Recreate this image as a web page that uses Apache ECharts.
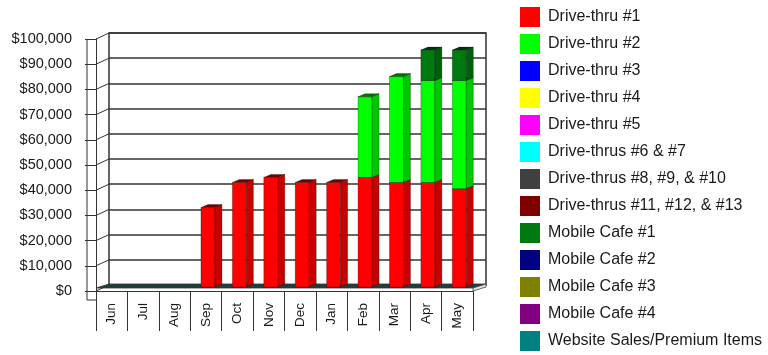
<!DOCTYPE html>
<html>
<head>
<meta charset="utf-8">
<script src="https://cdn.jsdelivr.net/npm/echarts@6/dist/echarts.min.js"></script>
<style>
  html, body { margin: 0; padding: 0; background: #fff; }
  #chart { width: 768px; height: 355px; }
</style>
</head>
<body>
<div id="chart"></div>
<script>
const months = ['Jun', 'Jul', 'Aug', 'Sep', 'Oct', 'Nov', 'Dec', 'Jan', 'Feb', 'Mar', 'Apr', 'May'];
const names = [
  'Drive-thru #1', 'Drive-thru #2', 'Drive-thru #3', 'Drive-thru #4', 'Drive-thru #5',
  'Drive-thrus #6 & #7', 'Drive-thrus #8, #9, & #10', 'Drive-thrus #11, #12, & #13',
  'Mobile Cafe #1', 'Mobile Cafe #2', 'Mobile Cafe #3', 'Mobile Cafe #4',
  'Website Sales/Premium Items'
];
const colors = [
  '#ff0000', '#00ff00', '#0000ff', '#ffff00', '#ff00ff', '#00ffff', '#404040',
  '#800000', '#007a10', '#000080', '#808000', '#800080', '#008080'
];
// sales per month
const driveThru1 = [0, 0, 0, 31500, 41500, 43500, 41500, 41500, 43500, 41500, 41500, 39000];
const driveThru2 = [0, 0, 0, 0, 0, 0, 0, 0, 32000, 42000, 40500, 43000];
const mobileCafe1 = [0, 0, 0, 0, 0, 0, 0, 0, 0, 0, 12000, 12000];
const none = [0, 0, 0, 0, 0, 0, 0, 0, 0, 0, 0, 0];
const values = [driveThru1, driveThru2, none, none, none, none, none, none,
  mobileCafe1, none, none, none, none];
const yTicks = [0, 10000, 20000, 30000, 40000, 50000, 60000, 70000, 80000, 90000, 100000];

// depth of the fake 3d box
const WALL_DX = 13, WALL_DY = -6;
const BAR_DX = 2, BAR_DY = -4, BAR_HALF = 7, SIDE_DX = 7, SIDE_DY = -3;

function shade(hex, f) {
  const n = parseInt(hex.slice(1), 16);
  const r = Math.round(((n >> 16) & 255) * f);
  const g = Math.round(((n >> 8) & 255) * f);
  const b = Math.round((n & 255) * f);
  return 'rgb(' + r + ',' + g + ',' + b + ')';
}

var chart = echarts.init(document.getElementById('chart'));

let base = months.map(() => 0);
const barSeries = names.map((name, s) => {
  const data = values[s].map((v, i) => {
    const item = [i, base[i], base[i] + v];
    base[i] += v;
    return item;
  });
  const col = colors[s];
  return {
    name: name,
    type: 'custom',
    xAxisIndex: 1,
    yAxisIndex: 1,
    z: 3,
    itemStyle: { color: col },
    data: data,
    renderItem: function (params, api) {
      const lo = api.value(1), hi = api.value(2);
      if (hi <= lo) return null;
      const p0 = api.coord([api.value(0), lo]);
      const p1 = api.coord([api.value(0), hi]);
      const xl = p0[0] + BAR_DX - BAR_HALF;
      const xr = p0[0] + BAR_DX + BAR_HALF;
      const yb = p0[1] + BAR_DY;
      const yt = p1[1] + BAR_DY;
      const edge = { stroke: 'rgba(0,0,0,0.45)', lineWidth: 0.6 };
      return {
        type: 'group',
        children: [
          {
            type: 'rect',
            shape: { x: xl, y: yt, width: xr - xl, height: yb - yt },
            style: Object.assign({ fill: col }, edge)
          },
          {
            type: 'polygon',
            shape: { points: [[xr, yb], [xr + SIDE_DX, yb + SIDE_DY], [xr + SIDE_DX, yt + SIDE_DY], [xr, yt]] },
            style: Object.assign({ fill: shade(col, 0.78) }, edge)
          },
          {
            type: 'polygon',
            shape: { points: [[xl, yt], [xr, yt], [xr + SIDE_DX, yt + SIDE_DY], [xl + SIDE_DX, yt + SIDE_DY]] },
            style: Object.assign({ fill: shade(col, 0.45) }, edge)
          }
        ]
      };
    }
  };
});

// floor slab and left frame
const floorSeries = {
  type: 'custom',
  xAxisIndex: 1,
  yAxisIndex: 1,
  z: 2,
  silent: true,
  data: [[0]],
  renderItem: function (params, api) {
    const band = api.size([1, 0])[0];
    const a = api.coord([0, 0]);
    const b = api.coord([months.length - 1, 0]);
    const top = api.coord([0, yTicks[yTicks.length - 1]]);
    const x0 = a[0] - band / 2, x1 = b[0] + band / 2, y0 = a[1];
    const yf = y0 - 3;
    return {
      type: 'group',
      children: [
        {
          type: 'polygon',
          shape: { points: [[x0, yf], [x1, yf], [x1 + WALL_DX, yf - 4], [x0 + WALL_DX, yf - 4]] },
          style: { fill: '#1f3f3d', stroke: '#333', lineWidth: 0.8 }
        },
        {
          type: 'polygon',
          shape: { points: [[x1, yf], [x1 + WALL_DX, yf - 4], [x1 + WALL_DX, y0 - 4], [x1, y0]] },
          style: { fill: '#e4e4e4', stroke: '#444', lineWidth: 0.8 }
        },
        {
          type: 'polyline',
          shape: { points: [[x0 - 9, top[1]], [x0 - 9, y0 + 9], [x0, y0 + 9]] },
          style: { fill: null, stroke: '#333', lineWidth: 1 }
        }
      ]
    };
  }
};

// left wall diagonals from front ticks to the back wall
const wallSeries = {
  type: 'custom',
  xAxisIndex: 1,
  yAxisIndex: 1,
  z: 2,
  silent: true,
  data: yTicks.map((v) => [0, v]),
  renderItem: function (params, api) {
    const band = api.size([1, 0])[0];
    const p = api.coord([0, api.value(1)]);
    const x0 = p[0] - band / 2;
    return {
      type: 'line',
      shape: { x1: x0, y1: p[1], x2: x0 + WALL_DX, y2: p[1] + WALL_DY },
      style: { stroke: '#333', lineWidth: 1 }
    };
  }
};

option = {
  animation: false,
  color: colors,
  legend: {
    data: names,
    orient: 'vertical',
    left: 520,
    top: 7,
    padding: 0,
    itemWidth: 20,
    itemHeight: 20,
    itemGap: 7,
    icon: 'rect',
    textStyle: { fontFamily: 'Liberation Sans', fontSize: 16, color: '#1a1a1a', padding: [0, 0, 0, 3] }
  },
  grid: [
    // back wall
    { left: 96 + WALL_DX, right: 295 - WALL_DX, top: 39 + WALL_DY, bottom: 64 - WALL_DY,
      show: true, borderColor: '#333', borderWidth: 1.5, backgroundColor: '#fff' },
    // front plane
    { left: 96, right: 295, top: 39, bottom: 64 }
  ],
  xAxis: [
    { gridIndex: 0, type: 'category', data: months, show: false },
    {
      gridIndex: 1,
      type: 'category',
      data: months,
      axisLine: { lineStyle: { color: '#333', width: 1 } },
      axisTick: { show: true, interval: 0, length: 40, lineStyle: { color: '#333' } },
      axisLabel: { rotate: 90, margin: 12, fontFamily: 'Liberation Sans', fontSize: 13.5, color: '#1a1a1a' }
    }
  ],
  yAxis: [
    {
      gridIndex: 0,
      type: 'value',
      min: 0,
      max: 100000,
      interval: 10000,
      axisLine: { show: false },
      axisTick: { show: false },
      axisLabel: { show: false },
      splitLine: { lineStyle: { color: '#333', width: 1.6 } }
    },
    {
      gridIndex: 1,
      type: 'value',
      min: 0,
      max: 100000,
      interval: 10000,
      axisLine: { show: true, lineStyle: { color: '#333' } },
      axisTick: { show: true, length: 11, lineStyle: { color: '#333' } },
      splitLine: { show: false },
      axisLabel: {
        margin: 24,
        fontFamily: 'Liberation Sans',
        fontSize: 14.5,
        color: '#1a1a1a',
        formatter: (v) => '$' + String(v).replace(/\B(?=(\d{3})+(?!\d))/g, ',')
      }
    }
  ],
  series: [floorSeries, wallSeries].concat(barSeries)
};

if (option && typeof option === 'object') {
  chart.setOption(option);
}
</script>
</body>
</html>
